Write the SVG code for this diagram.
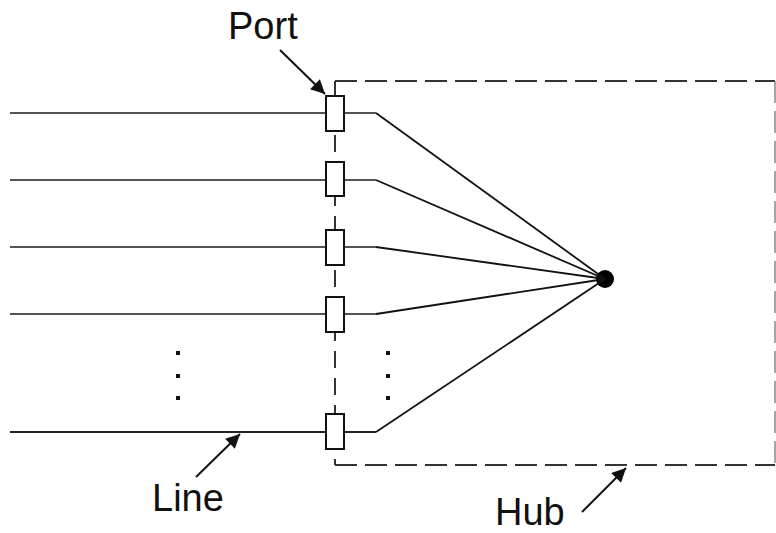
<svg xmlns="http://www.w3.org/2000/svg" width="776" height="533" viewBox="0 0 776 533">
  <style>
    .hub-border { fill: none; stroke: #333; stroke-width: 2; stroke-dasharray: 22 8; }
    .line-h { fill: none; stroke: #555; stroke-width: 2; }
    .spoke { fill: none; stroke: #111; stroke-width: 1.8; }
    .port { fill: #fff; stroke: #111; stroke-width: 2; }
    .dot { fill: #111; }
    .label { font-family: "Liberation Sans", Arial, sans-serif; font-size: 38px; fill: #111; }
    .pointer { fill: none; stroke: #111; stroke-width: 2; }
  </style>
  <defs>
    <marker id="arrowhead" viewBox="0 0 10 10" refX="10" refY="5" markerWidth="8" markerHeight="7" markerUnits="strokeWidth" orient="auto">
      <path d="M0,0 L10,5 L0,10 z" fill="#111"/>
    </marker>
  </defs>
  <rect width="776" height="533" fill="#fff"/>

  <!-- hub boundary -->
  <g id="hub">
    <path class="hub-border" d="M335,465 L775,465"/>
    <path class="hub-border" d="M335,81 L775,81"/>
    <path class="hub-border" d="M775,81 L775,465" style="stroke:#888;stroke-width:1.5"/>
    <path class="hub-border" d="M335,81 L335,465" style="stroke-dasharray:17 10"/>
    <circle cx="605" cy="279" r="9" fill="#000"/>
  </g>

  <!-- lines and spokes -->
  <g id="connectors">
    <path class="line-h" d="M10,113 H376"/>
    <path class="line-h" d="M10,180 H376"/>
    <path class="line-h" d="M10,247 H376"/>
    <path class="line-h" d="M10,314 H376"/>
    <path class="line-h" d="M10,432 H376" style="stroke:#222"/>
    <path class="spoke" d="M376,113 L605,279"/>
    <path class="spoke" d="M376,180 L605,279"/>
    <path class="spoke" d="M376,247 L605,279"/>
    <path class="spoke" d="M376,314 L605,279"/>
    <path class="spoke" d="M376,432 L605,279"/>
  </g>

  <!-- ports -->
  <g id="port-1"><rect class="port" x="326" y="96" width="18" height="35"/></g>
  <g id="port-2"><rect class="port" x="326" y="162" width="18" height="34"/></g>
  <g id="port-3"><rect class="port" x="326" y="230" width="18" height="35"/></g>
  <g id="port-4"><rect class="port" x="326" y="297" width="18" height="35"/></g>
  <g id="port-n"><rect class="port" x="326" y="414" width="18" height="35"/></g>

  <!-- ellipses -->
  <g id="ellipsis-left">
    <rect class="dot" x="176" y="351" width="4" height="4"/>
    <rect class="dot" x="176" y="374" width="4" height="4"/>
    <rect class="dot" x="176" y="396" width="4" height="4"/>
  </g>
  <g id="ellipsis-right">
    <rect class="dot" x="386" y="351" width="4" height="4"/>
    <rect class="dot" x="386" y="374" width="4" height="4"/>
    <rect class="dot" x="386" y="396" width="4" height="4"/>
  </g>

  <!-- labels with pointers -->
  <g id="label-port">
    <text class="label" x="228" y="39">Port</text>
    <path class="pointer" d="M280,50 L325,94" marker-end="url(#arrowhead)"/>
  </g>
  <g id="label-line">
    <text class="label" x="152" y="511">Line</text>
    <path class="pointer" d="M196,477 L240,434" marker-end="url(#arrowhead)"/>
  </g>
  <g id="label-hub">
    <text class="label" x="495" y="525">Hub</text>
    <path class="pointer" d="M582,512 L626,468" marker-end="url(#arrowhead)"/>
  </g>
</svg>
